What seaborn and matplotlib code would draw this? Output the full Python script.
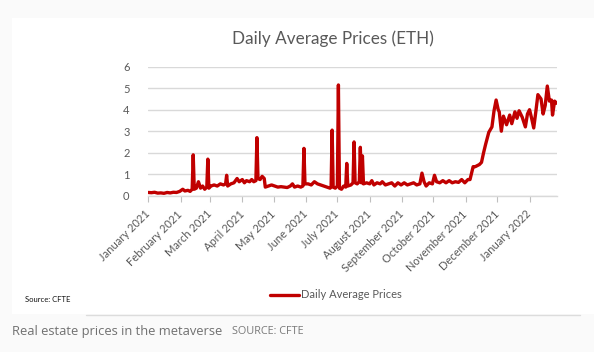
import matplotlib
matplotlib.use("Agg")
import matplotlib.pyplot as plt
from matplotlib.patches import Rectangle
from matplotlib.lines import Line2D
import seaborn as sns
import pandas as pd

dates = [
    "2021-01-01", "2021-01-04", "2021-01-07", "2021-01-10", "2021-01-13", "2021-01-16",
    "2021-01-19", "2021-01-22", "2021-01-25", "2021-01-28", "2021-01-31", "2021-02-03",
    "2021-02-05", "2021-02-08", "2021-02-10", "2021-02-12", "2021-02-13", "2021-02-14",
    "2021-02-16", "2021-02-18", "2021-02-20", "2021-02-22", "2021-02-24", "2021-02-26",
    "2021-02-27", "2021-02-28", "2021-03-02", "2021-03-05", "2021-03-08", "2021-03-11",
    "2021-03-14", "2021-03-16", "2021-03-17", "2021-03-18", "2021-03-21", "2021-03-24",
    "2021-03-27", "2021-03-29", "2021-04-01", "2021-04-03", "2021-04-05", "2021-04-08",
    "2021-04-10", "2021-04-12", "2021-04-14", "2021-04-15", "2021-04-16", "2021-04-18",
    "2021-04-20", "2021-04-22", "2021-04-23", "2021-04-26", "2021-04-29", "2021-05-02",
    "2021-05-05", "2021-05-08", "2021-05-11", "2021-05-14", "2021-05-17", "2021-05-19",
    "2021-05-21", "2021-05-24", "2021-05-27", "2021-05-29", "2021-05-30", "2021-05-31",
    "2021-06-03", "2021-06-06", "2021-06-09", "2021-06-12", "2021-06-15", "2021-06-18",
    "2021-06-21", "2021-06-24", "2021-06-25", "2021-06-26", "2021-06-27", "2021-06-29",
    "2021-07-01", "2021-07-02", "2021-07-03", "2021-07-05", "2021-07-07", "2021-07-09",
    "2021-07-10", "2021-07-11", "2021-07-14", "2021-07-16", "2021-07-17", "2021-07-18",
    "2021-07-20", "2021-07-22", "2021-07-23", "2021-07-24", "2021-07-25", "2021-07-26",
    "2021-07-29", "2021-08-01", "2021-08-03", "2021-08-05", "2021-08-08", "2021-08-11",
    "2021-08-13", "2021-08-16", "2021-08-19", "2021-08-22", "2021-08-25", "2021-08-28",
    "2021-08-31", "2021-09-03", "2021-09-06", "2021-09-09", "2021-09-12", "2021-09-15",
    "2021-09-18", "2021-09-20", "2021-09-22", "2021-09-24", "2021-09-27", "2021-09-30",
    "2021-10-02", "2021-10-04", "2021-10-07", "2021-10-10", "2021-10-13", "2021-10-16",
    "2021-10-19", "2021-10-22", "2021-10-25", "2021-10-28", "2021-10-31", "2021-11-03",
    "2021-11-05", "2021-11-08", "2021-11-10", "2021-11-12", "2021-11-14", "2021-11-16",
    "2021-11-18", "2021-11-20", "2021-11-23", "2021-11-26", "2021-11-28", "2021-11-30",
    "2021-12-02", "2021-12-03", "2021-12-05", "2021-12-07", "2021-12-10", "2021-12-13",
    "2021-12-15", "2021-12-18", "2021-12-20", "2021-12-22", "2021-12-25", "2021-12-28",
    "2021-12-30", "2022-01-01", "2022-01-03", "2022-01-05", "2022-01-07", "2022-01-09",
    "2022-01-12", "2022-01-14", "2022-01-16", "2022-01-18", "2022-01-20", "2022-01-22",
    "2022-01-23", "2022-01-25", "2022-01-27",
]
prices = [
    0.15, 0.14, 0.16, 0.12, 0.13, 0.11,
    0.15, 0.13, 0.16, 0.15, 0.20, 0.30,
    0.22, 0.25, 0.20, 0.30, 1.90, 0.30,
    0.35, 0.65, 0.35, 0.45, 0.30, 0.40,
    1.70, 0.35, 0.45, 0.50, 0.45, 0.55,
    0.50, 0.55, 0.95, 0.45, 0.55, 0.60,
    0.80, 0.65, 0.75, 0.60, 0.70, 0.65,
    0.75, 0.65, 0.70, 2.70, 0.80, 0.75,
    0.90, 0.80, 0.40, 0.45, 0.50, 0.45,
    0.40, 0.42, 0.40, 0.38, 0.45, 0.55,
    0.40, 0.45, 0.40, 0.45, 2.20, 0.55,
    0.55, 0.50, 0.65, 0.55, 0.50, 0.45,
    0.40, 0.35, 0.40, 3.05, 0.40, 0.35,
    0.45, 5.15, 0.35, 0.30, 0.45, 0.40,
    1.50, 0.45, 0.50, 0.60, 2.50, 0.60,
    0.55, 0.65, 2.25, 0.60, 1.85, 0.55,
    0.60, 0.55, 0.70, 0.50, 0.60, 0.55,
    0.65, 0.50, 0.55, 0.60, 0.45, 0.60,
    0.50, 0.60, 0.50, 0.55, 0.60, 0.50,
    0.55, 1.05, 0.65, 0.45, 0.60, 0.55,
    0.95, 0.65, 0.60, 0.70, 0.60, 0.70,
    0.60, 0.65, 0.62, 0.75, 0.60, 0.75,
    0.75, 1.35, 1.35, 1.40, 1.45, 1.55,
    2.00, 2.40, 2.95, 3.20, 3.95, 4.45,
    4.00, 3.90, 3.00, 3.70, 3.30, 3.75,
    3.35, 3.90, 3.60, 3.95, 3.65, 3.20,
    3.80, 4.00, 3.60, 3.15, 3.90, 4.70,
    4.50, 3.80, 4.20, 5.10, 4.40, 4.45,
    3.75, 4.40, 4.30,
]
tick_months = ["January 2021", "February 2021", "March 2021", "April 2021", "May 2021",
               "June 2021", "July 2021", "August 2021", "September 2021", "October 2021",
               "November 2021", "December 2021", "January 2022"]
y_ticks = [0, 1, 2, 3, 4, 5, 6]

df = pd.DataFrame({"date": pd.to_datetime(dates), "price": prices})

sns.set_style("white")
plt.rcParams["font.family"] = ["Lato", "DejaVu Sans"]

W, H = 594, 352
fig = plt.figure(figsize=(W / 100, H / 100), dpi=100)
fig.patch.set_facecolor("#fafafa")
fig.patches.append(Rectangle((12 / W, 1 - 314 / H), 1 - 12 / W, (314 - 18) / H,
                             transform=fig.transFigure, facecolor="white",
                             edgecolor="none", zorder=-5))
fig.lines.append(Line2D([86 / W, 580 / W], [1 - 314.5 / H, 1 - 314.5 / H],
                        transform=fig.transFigure, color="#dcdcdc", lw=1.0, zorder=-4))

ax = fig.add_axes([148.3 / W, 1 - 195.7 / H, (556.7 - 148.3) / W, (195.7 - 66.7) / H])
ax.set_zorder(2)
ax.patch.set_visible(False)
sns.lineplot(data=df, x="date", y="price", ax=ax, color="#c00000", lw=2.4,
             legend=False)

ax.set_ylim(0, 6)
ax.set_yticks(y_ticks)
ax.set_xlim(pd.Timestamp("2021-01-01"), pd.Timestamp("2022-01-27"))
tick_dates = pd.date_range("2021-01-01", periods=len(tick_months), freq="MS")
ax.set_xticks(tick_dates)
ax.set_xticklabels(tick_months, rotation=45, ha="right", va="center",
                   rotation_mode="anchor")
ax.grid(axis="y", color="#d9d9d9", lw=1.0)
ax.grid(axis="x", visible=False)
for s in ["top", "right", "left"]:
    ax.spines[s].set_visible(False)
ax.spines["bottom"].set_color("#d9d9d9")
ax.spines["bottom"].set_linewidth(1.0)
ax.tick_params(axis="x", bottom=True, length=4, width=0.8, color="#bfbfbf",
               labelsize=8, labelcolor="#595959", pad=8)
ax.tick_params(axis="y", left=False, labelsize=8, labelcolor="#595959", pad=10)
ax.set_xlabel("")
ax.set_ylabel("")

fig.text(333 / W, 1 - 39 / H, "Daily Average Prices (ETH)", ha="center", va="center",
         fontsize=12.3, color="#595959")

handle = Line2D([], [], color="#c00000", lw=2.4)
fig.legend([handle], ["Daily Average Prices"], loc="center",
           bbox_to_anchor=(336 / W, 1 - 295 / H), frameon=False, fontsize=8,
           handlelength=2.6, handletextpad=0.2, labelcolor="#595959")

fig.text(25 / W, 1 - 300 / H, "Source: CFTE", ha="left", va="center", fontsize=5.5,
         color="#111111")
fig.text(12 / W, 1 - 331 / H, "Real estate prices in the metaverse", ha="left",
         va="center", fontsize=9.3, color="#707070", family=["Open Sans", "DejaVu Sans"])
fig.text(232 / W, 1 - 331 / H, "SOURCE: CFTE", ha="left", va="center", fontsize=7.8,
         color="#7a7a7a", family=["Open Sans", "DejaVu Sans"])

fig.savefig("out.png", dpi=100, facecolor=fig.get_facecolor())
